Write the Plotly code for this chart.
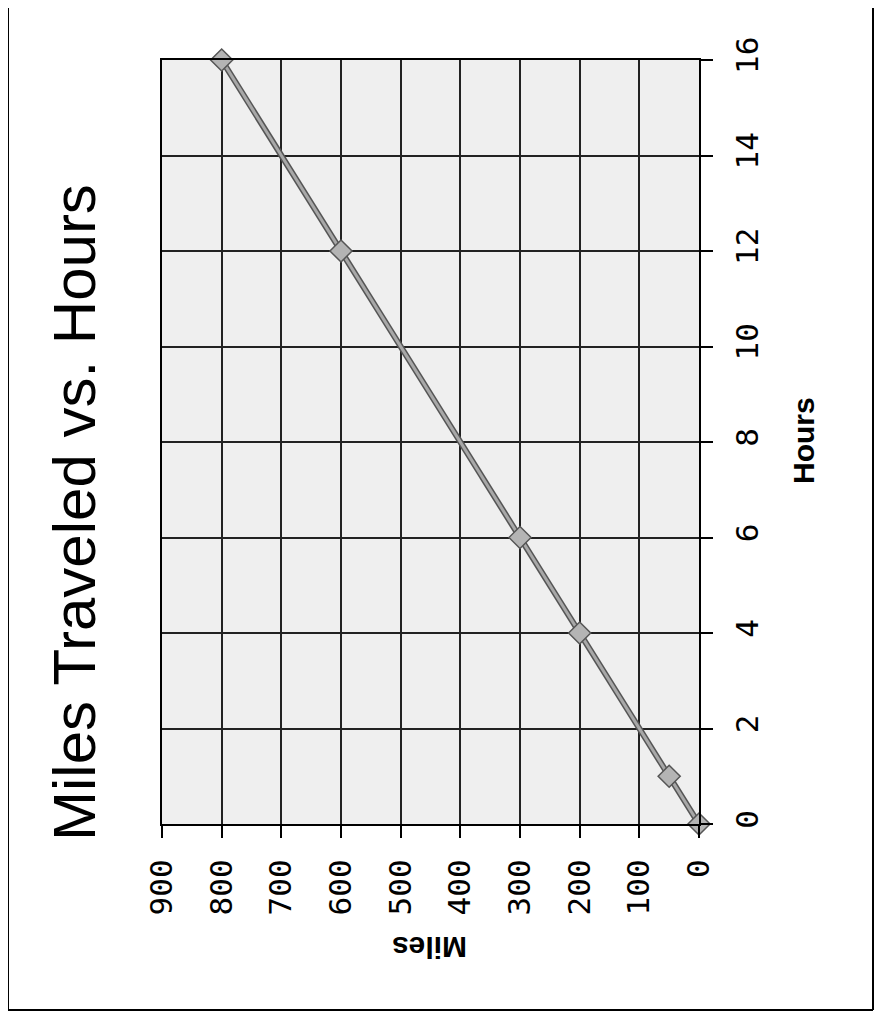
import plotly.graph_objects as go

# Data (chart is drawn rotated 90 degrees counter-clockwise, as in the scan)
hours = [0, 1, 4, 6, 12, 16]
miles = [0, 50, 200, 300, 600, 800]
hour_ticks = [0, 2, 4, 6, 8, 10, 12, 14, 16]
mile_ticks = [0, 100, 200, 300, 400, 500, 600, 700, 800, 900]
title_text = "Miles Traveled vs. Hours"
x_title = "Hours"
y_title = "Miles"

OFF = 8  # page body margin added by the browser
W, H = 882 - OFF, 1025 - OFF
L, R, T, B = 162 - OFF, 699 - OFF, 60 - OFF, 824 - OFF  # plot area (figure px)


def px(x):
    return (x - OFF - L) / (R - L)


def py(y):
    return (B - (y - OFF)) / (B - T)


fig = go.Figure()
# dark edge of the line
fig.add_trace(go.Scatter(x=miles, y=hours, mode="lines",
                         line=dict(color="#555555", width=6),
                         hoverinfo="skip", showlegend=False, cliponaxis=False))
# gray core of the line plus diamond markers
fig.add_trace(go.Scatter(x=miles, y=hours, mode="lines+markers",
                         line=dict(color="#a8a8a8", width=3),
                         marker=dict(symbol="diamond", size=17, color="#b4b4b4",
                                     line=dict(color="#555555", width=1.5)),
                         showlegend=False, cliponaxis=False))

tickfont = dict(family="DejaVu Sans Mono", size=31, color="black")

fig.update_layout(
    width=W, height=H, autosize=False,
    margin=dict(l=L, r=W - R, t=T, b=H - B, pad=0),
    paper_bgcolor="white",
    plot_bgcolor="#efefef",
    showlegend=False,
    xaxis=dict(range=[900, 0], tickmode="array", tickvals=mile_ticks,
               ticktext=[str(v) for v in mile_ticks],
               tickangle=-90, tickfont=tickfont,
               showgrid=True, gridcolor="#222222", gridwidth=1.5,
               zeroline=False, showline=True, linecolor="black", linewidth=2,
               mirror=True, ticks="outside", ticklen=12, tickwidth=2,
               tickcolor="black", ticklabelstandoff=9),
    yaxis=dict(range=[0, 16], side="right", tickmode="array", tickvals=hour_ticks,
               ticktext=[str(v) for v in hour_ticks],
               tickangle=-90, tickfont=tickfont,
               showgrid=True, gridcolor="#222222", gridwidth=1.5,
               zeroline=False, showline=True, linecolor="black", linewidth=2,
               mirror=True, ticks="outside", ticklen=12, tickwidth=2,
               tickcolor="black", ticklabelstandoff=8),
)

# Titles as rotated annotations
fig.add_annotation(text=title_text, xref="paper", yref="paper",
                   x=px(75), y=py(513), xanchor="center", yanchor="middle",
                   textangle=-90, showarrow=False,
                   font=dict(family="Liberation Sans", size=60, color="black"))
fig.add_annotation(text="<b>%s</b>" % x_title, xref="paper", yref="paper",
                   x=px(804), y=py(441), xanchor="center", yanchor="middle",
                   textangle=-90, showarrow=False,
                   font=dict(family="Liberation Sans", size=30, color="black"))
fig.add_annotation(text="<b>%s</b>" % y_title, xref="paper", yref="paper",
                   x=px(430), y=py(948), xanchor="center", yanchor="middle",
                   textangle=180, showarrow=False,
                   font=dict(family="Liberation Sans", size=30, color="black"))

# Outer frame of the chart (top edge lies above the page)
frame = dict(color="black", width=2)
fig.add_shape(type="line", xref="paper", yref="paper",
              x0=px(8), x1=px(8), y0=py(1010), y1=py(0), line=frame)
fig.add_shape(type="line", xref="paper", yref="paper",
              x0=px(873), x1=px(873), y0=py(1010), y1=py(0), line=frame)
fig.add_shape(type="line", xref="paper", yref="paper",
              x0=px(8), x1=px(873), y0=py(1010), y1=py(1010), line=frame)

fig.write_html("out.html")
